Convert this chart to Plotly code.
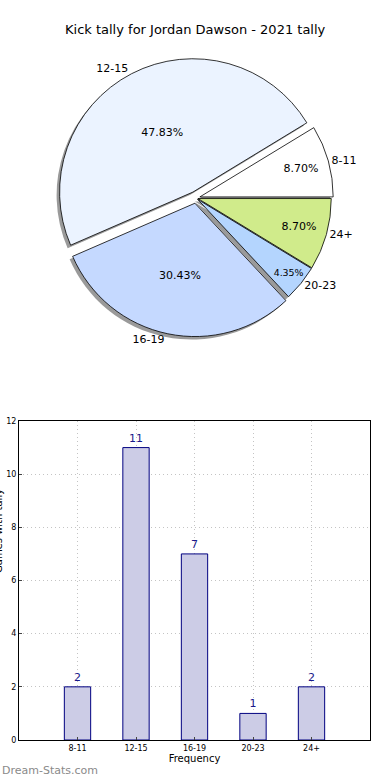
import plotly.graph_objects as go

categories = ["8-11", "12-15", "16-19", "20-23", "24+"]
counts = [2, 11, 7, 1, 2]
pie_colors = ["#FFFFFF", "#EBF3FF", "#C5D9FF", "#B4D5FE", "#D0EB8B"]
pulls = [0.03, 0.05, 0.04, 0.015, 0.015]
y_ticks = [0, 2, 4, 6, 8, 10, 12]

W, H = 390, 780
px_x = lambda p: p / W
px_y = lambda p: 1 - p / H

# first slice starts at 3 o'clock and runs counterclockwise
rot = 90 - 360 * counts[0] / sum(counts)

pie_dom_x = [px_x(56), px_x(336)]
pie_dom_y = [px_y(338), px_y(58)]

fig = go.Figure()

common = dict(labels=categories, values=counts, sort=False,
              direction="counterclockwise", rotation=rot, pull=pulls,
              showlegend=False)

# shadow
fig.add_trace(go.Pie(
    **common, textinfo="none", hoverinfo="skip",
    marker=dict(colors=["#9a9a9a"] * 5, line=dict(width=0)),
    domain=dict(x=[pie_dom_x[0] - 3 / W, pie_dom_x[1] - 3 / W],
                y=[pie_dom_y[0] - 3 / H, pie_dom_y[1] - 3 / H]),
))
# main pie with percentages
fig.add_trace(go.Pie(
    **common, texttemplate="%{percent:.2%}", textposition="inside",
    insidetextorientation="horizontal",
    textfont=dict(family="DejaVu Sans", size=11, color="black"),
    marker=dict(colors=pie_colors, line=dict(color="black", width=0.8)),
    domain=dict(x=pie_dom_x, y=pie_dom_y),
))
# outside category labels
fig.add_trace(go.Pie(
    **common, textinfo="label", textposition="outside", hoverinfo="skip",
    textfont=dict(family="DejaVu Sans", size=11, color="black"),
    marker=dict(colors=["rgba(0,0,0,0)"] * 5, line=dict(width=0)),
    domain=dict(x=pie_dom_x, y=pie_dom_y),
))

fig.add_trace(go.Bar(
    x=list(range(len(categories))), y=counts, width=0.45,
    text=[str(c) for c in counts], textposition="outside",
    textfont=dict(family="DejaVu Sans", size=11, color="#1a1a8c"),
    marker=dict(color="#CCCCE6", line=dict(color="#000080", width=1)),
    cliponaxis=False, showlegend=False,
))

grid = dict(showgrid=True, gridcolor="#c4c4c4", griddash="1px,3px", gridwidth=1.2)

fig.update_layout(
    width=W, height=H, margin=dict(l=0, r=0, t=0, b=0, autoexpand=False),
    paper_bgcolor="white", plot_bgcolor="white",
    font=dict(family="DejaVu Sans", color="black"),
    xaxis=dict(domain=[px_x(19), px_x(370)], range=[-1, 5],
               tickvals=list(range(len(categories))), ticktext=categories,
               tickfont=dict(size=8), ticks="inside", ticklen=3,
               showline=True, linecolor="black", linewidth=1, mirror=True,
               zeroline=False, **grid, automargin=False,
               title=dict(text="Frequency", font=dict(size=10), standoff=2),
               anchor="y"),
    yaxis=dict(domain=[px_y(740), px_y(421)], range=[0, 12], tickvals=y_ticks,
               tickfont=dict(size=8), ticks="inside", ticklen=3,
               showline=True, linecolor="black", linewidth=1, mirror=True,
               zeroline=False, **grid, automargin=False, anchor="x"),
    annotations=[
        dict(text="Kick tally for Jordan Dawson - 2021 tally", x=0.5, y=px_y(30),
             xref="paper", yref="paper", showarrow=False, yanchor="middle",
             font=dict(size=13, family="DejaVu Sans")),
        dict(text="Games with tally", x=px_x(0), y=px_y(575), xref="paper", yref="paper",
             showarrow=False, textangle=-90, xanchor="center", xshift=-2,
             font=dict(size=10, family="DejaVu Sans")),
        dict(text="Dream-Stats.com", x=px_x(0), y=px_y(770), xref="paper", yref="paper",
             showarrow=False, xanchor="left", yanchor="middle",
             font=dict(size=11, family="DejaVu Sans", color="#8a8a8a")),
    ],
)

fig.write_html(
    "out.html",
    config=dict(displayModeBar=False),
    post_script="document.body.style.margin='0';document.body.style.overflow='hidden';",
)
